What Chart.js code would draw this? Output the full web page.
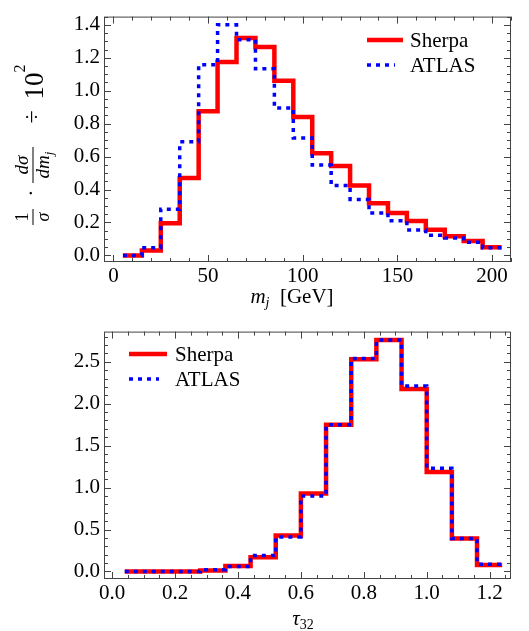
<!DOCTYPE html>
<html>
<head>
<meta charset="utf-8">
<script src="https://cdn.jsdelivr.net/npm/chart.js@4.4.1/dist/chart.umd.min.js"></script>
<style>
  body { margin: 0; background: #fff; }
  canvas { position: absolute; left: 0; }
  #massChart { top: 0; }
  #tauChart { top: 315px; }
</style>
</head>
<body>
<canvas id="massChart" width="529" height="315"></canvas>
<canvas id="tauChart" width="529" height="316"></canvas>
<script>
// jet mass histogram, bins of 10 GeV
const massEdges = [5, 15, 25, 35, 45, 55, 65, 75, 85, 95, 105, 115, 125, 135, 145, 155, 165, 175, 185, 195, 205];
const sherpaMass = [0.0, 0.03, 0.195, 0.47, 0.875, 1.175, 1.32, 1.265, 1.06, 0.84, 0.62, 0.543, 0.424, 0.316, 0.258, 0.209, 0.156, 0.117, 0.088, 0.049];
const atlasMass = [0.0, 0.047, 0.28, 0.69, 1.158, 1.40, 1.31, 1.133, 0.895, 0.713, 0.549, 0.424, 0.34, 0.258, 0.211, 0.154, 0.123, 0.105, 0.08, 0.047];

// tau_32 histogram, bins of 0.08
const tauEdges = [0.04, 0.12, 0.2, 0.28, 0.36, 0.44, 0.52, 0.6, 0.68, 0.76, 0.84, 0.92, 1.0, 1.08, 1.16, 1.24];
const sherpaTau = [0, 0, 0, 0.01, 0.066, 0.17, 0.43, 0.93, 1.75, 2.53, 2.76, 2.175, 1.186, 0.394, 0.077];
const atlasTau = [0, 0, 0, 0.02, 0.06, 0.19, 0.41, 0.90, 1.75, 2.54, 2.76, 2.21, 1.23, 0.394, 0.085];

// tick labels
const massXTicks = [0, 50, 100, 150, 200];
const massYTicks = [0, 0.2, 0.4, 0.6, 0.8, 1.0, 1.2, 1.4];
const tauXTicks = [0, 0.2, 0.4, 0.6, 0.8, 1.0, 1.2];
const tauYTicks = [0, 0.5, 1.0, 1.5, 2.0, 2.5];

const serif = "'Liberation Serif', 'Times New Roman', 'DejaVu Serif', serif";
const f = (px) => px + "px " + serif;
const fi = (px) => "italic " + px + "px " + serif;

const histPoints = (edges, vals) =>
  edges.map((x, i) => ({ x: x, y: vals[Math.min(i, vals.length - 1)] }));

// draws a run of text pieces (different fonts) starting at x, or centred on x
function drawRun(ctx, segs, x, y, center) {
  let w = 0;
  segs.forEach((s) => { ctx.font = s.font; w += ctx.measureText(s.t).width; });
  let cx = center ? x - w / 2 : x;
  segs.forEach((s) => {
    ctx.font = s.font;
    ctx.fillText(s.t, cx, y + (s.dy || 0));
    cx += ctx.measureText(s.t).width;
  });
}

// Mathematica-style frame with inward ticks on all four sides
const frameTicks = {
  id: "frameTicks",
  afterDraw(chart, args, opts) {
    const { ctx, chartArea: a } = chart;
    const sx = chart.scales.x, sy = chart.scales.y;
    ctx.save();
    ctx.strokeStyle = "#444";
    ctx.lineWidth = 1;
    ctx.strokeRect(a.left + 0.5, a.top + 0.5, a.width - 1, a.height - 1);
    const marks = (scale, minor, major) => {
      const out = [];
      for (let k = Math.ceil(scale.min / minor - 1e-9); k * minor <= scale.max + 1e-9; k++) {
        const v = k * minor;
        const r = v / major;
        out.push({ p: Math.round(scale.getPixelForValue(v)) + 0.5, big: Math.abs(r - Math.round(r)) < 1e-6 });
      }
      return out;
    };
    ctx.beginPath();
    marks(sx, opts.xMinor, opts.xMajor).forEach((m) => {
      const l = m.big ? 7 : 4;
      ctx.moveTo(m.p, a.bottom); ctx.lineTo(m.p, a.bottom - l);
      ctx.moveTo(m.p, a.top); ctx.lineTo(m.p, a.top + l);
    });
    marks(sy, opts.yMinor, opts.yMajor).forEach((m) => {
      const l = m.big ? 7 : 4;
      ctx.moveTo(a.left, m.p); ctx.lineTo(a.left + l, m.p);
      ctx.moveTo(a.right, m.p); ctx.lineTo(a.right - l, m.p);
    });
    ctx.stroke();
    ctx.restore();
  },
};

const legendBox = {
  id: "legendBox",
  afterDraw(chart, args, opts) {
    const ctx = chart.ctx;
    ctx.save();
    chart.data.datasets.forEach((ds, i) => {
      const y = opts.y + i * opts.dy;
      ctx.beginPath();
      ctx.strokeStyle = ds.borderColor;
      ctx.lineWidth = ds.borderWidth;
      ctx.setLineDash(ds.borderDash || []);
      ctx.moveTo(opts.x, y);
      ctx.lineTo(opts.x + (ds.borderDash ? opts.dashLen : opts.lineLen), y);
      ctx.stroke();
      ctx.setLineDash([]);
      ctx.fillStyle = "#000";
      ctx.font = f(21);
      ctx.textBaseline = "alphabetic";
      ctx.textAlign = "left";
      ctx.fillText(ds.label, opts.textX, y + 7);
    });
    ctx.restore();
  },
};

const axisTitles = {
  id: "axisTitles",
  afterDraw(chart, args, opts) {
    const ctx = chart.ctx;
    ctx.save();
    ctx.fillStyle = "#000";
    ctx.strokeStyle = "#000";
    ctx.textAlign = "left";
    ctx.textBaseline = "alphabetic";
    // x title
    drawRun(ctx, opts.xTitle, opts.xTitleX, opts.xTitleY, true);
    // rotated y title
    ctx.translate(opts.yOrigin[0], opts.yOrigin[1]);
    ctx.rotate(-Math.PI / 2);
    ctx.lineWidth = 1;
    opts.yParts.forEach((p) => {
      if (p.num) {
        ctx.beginPath();
        ctx.moveTo(p.c - p.half, 0);
        ctx.lineTo(p.c + p.half, 0);
        ctx.stroke();
        drawRun(ctx, p.num, p.c, -5, true);
        drawRun(ctx, p.den, p.c, 16, true);
      } else {
        drawRun(ctx, p.segs, p.c, p.base, true);
      }
    });
    ctx.restore();
  },
};

function makeChart(id, cfg) {
  return new Chart(document.getElementById(id), {
    type: "line",
    data: {
      datasets: [
        {
          label: "Sherpa",
          data: histPoints(cfg.edges, cfg.sherpa),
          borderColor: "rgb(255,0,0)",
          borderWidth: 4.5,
          stepped: "before",
          pointRadius: 0,
          fill: false,
          order: 1,
        },
        {
          label: "ATLAS",
          data: histPoints(cfg.edges, cfg.atlas),
          borderColor: "rgb(0,0,255)",
          borderWidth: 3.5,
          borderDash: [4, 5],
          stepped: "before",
          pointRadius: 0,
          fill: false,
          order: 0,
        },
      ],
    },
    options: {
      responsive: false,
      animation: false,
      devicePixelRatio: 1,
      layout: { padding: { left: 0, right: 18, top: cfg.top, bottom: 0 } },
      scales: {
        x: {
          type: "linear",
          min: cfg.xMin,
          max: cfg.xMax,
          afterFit: (s) => { s.height = cfg.height - cfg.bottom; },
          afterBuildTicks: (s) => { s.ticks = cfg.xTicks.map((v) => ({ value: v })); },
          grid: { display: false, drawTicks: false },
          border: { display: false },
          ticks: {
            color: "#000",
            font: { family: serif, size: 21 },
            padding: 2,
            maxRotation: 0,
            autoSkip: false,
            callback: cfg.xFmt,
          },
        },
        y: {
          type: "linear",
          min: cfg.yMin,
          max: cfg.yMax,
          afterFit: (s) => { s.width = 104; },
          afterBuildTicks: (s) => { s.ticks = cfg.yTicks.map((v) => ({ value: v })); },
          grid: { display: false, drawTicks: false },
          border: { display: false },
          ticks: {
            color: "#000",
            font: { family: serif, size: 21 },
            padding: 4,
            autoSkip: false,
            callback: (v) => v.toFixed(1),
          },
        },
      },
      plugins: {
        legend: { display: false },
        tooltip: { enabled: false },
        frameTicks: cfg.frame,
        legendBox: cfg.legend,
        axisTitles: cfg.titles,
      },
    },
    plugins: [frameTicks, legendBox, axisTitles],
  });
}

makeChart("massChart", {
  edges: massEdges,
  sherpa: sherpaMass,
  atlas: atlasMass,
  xTicks: massXTicks,
  yTicks: massYTicks,
  xMin: -5, xMax: 210,
  yMin: -0.04, yMax: 1.45,
  height: 315, top: 7, bottom: 262,
  xFmt: (v) => v.toFixed(0),
  frame: { xMinor: 10, xMajor: 50, yMinor: 0.05, yMajor: 0.2 },
  legend: { x: 367, y: 40, dy: 25, lineLen: 36, dashLen: 28, textX: 410 },
  titles: {
    xTitle: [
      { t: "m", font: fi(21) },
      { t: "j", font: fi(14), dy: 4 },
      { t: "  [GeV]", font: f(21) },
    ],
    xTitleX: 292, xTitleY: 303,
    yOrigin: [33, 226],
    yParts: [
      { c: 9, half: 8, num: [{ t: "1", font: f(18) }], den: [{ t: "σ", font: fi(18) }] },
      { c: 33, base: 5, segs: [{ t: "·", font: f(22) }] },
      {
        c: 61, half: 18,
        num: [{ t: "dσ", font: fi(19) }],
        den: [{ t: "dm", font: fi(19) }, { t: "j", font: fi(13), dy: 4 }],
      },
      { c: 109, base: 6, segs: [{ t: "÷", font: f(24) }] },
      { c: 144, base: 10, segs: [{ t: "10", font: f(27) }, { t: "2", font: f(16), dy: -18 }] },
    ],
  },
});

makeChart("tauChart", {
  edges: tauEdges,
  sherpa: sherpaTau,
  atlas: atlasTau,
  xTicks: tauXTicks,
  yTicks: tauYTicks,
  xMin: -0.026, xMax: 1.268,
  yMin: -0.09, yMax: 2.86,
  height: 316, top: 10, bottom: 264,
  xFmt: (v) => v.toFixed(1),
  frame: { xMinor: 0.05, xMajor: 0.2, yMinor: 0.1, yMajor: 0.5 },
  legend: { x: 129, y: 39, dy: 25, lineLen: 38, dashLen: 30, textX: 175 },
  titles: {
    xTitle: [
      { t: "τ", font: fi(21) },
      { t: "32", font: f(14), dy: 4 },
    ],
    xTitleX: 303, xTitleY: 310,
    yOrigin: [33, 506],
    yParts: [
      { c: 9, half: 8, num: [{ t: "1", font: f(18) }], den: [{ t: "σ", font: fi(18) }] },
      { c: 32, base: 5, segs: [{ t: "·", font: f(22) }] },
      {
        c: 64, half: 20,
        num: [{ t: "dσ", font: fi(19) }],
        den: [{ t: "dτ", font: fi(19) }, { t: "32", font: f(13), dy: 4 }],
      },
    ],
  },
});
</script>
</body>
</html>
